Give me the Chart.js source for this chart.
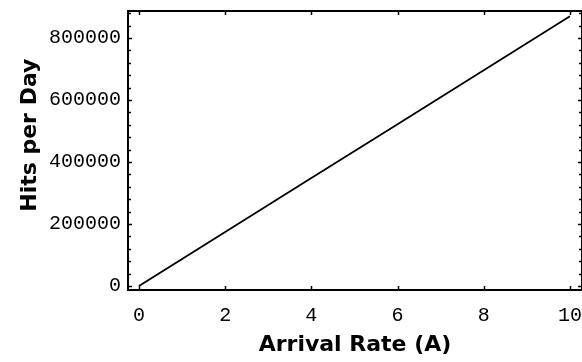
<!DOCTYPE html>
<html>
<head>
<meta charset="utf-8">
<script src="https://cdn.jsdelivr.net/npm/chart.js@4"></script>
<style>
  html, body { margin: 0; padding: 0; background: #fff; }
  canvas { display: block; }
</style>
</head>
<body>
<canvas id="hitsChart" width="582" height="362"></canvas>
<script>
// values
const arrivalRate = [0, 2, 4, 6, 8, 10];
const hitsPerDay = [0, 174000, 348000, 522000, 696000, 870000];

const xTickValues = [0, 2, 4, 6, 8, 10];
const yTickValues = [0, 200000, 400000, 600000, 800000];
const yMinorStep = 40000;

const ctx = document.getElementById('hitsChart').getContext('2d');

// frame + little inward ticks, like the old Mathematica plot
const frameTicks = {
  id: 'frameTicks',
  afterDraw(chart) {
    const { ctx, chartArea: a, scales: { x, y } } = chart;
    ctx.save();
    ctx.strokeStyle = '#000';
    ctx.lineWidth = 2;
    ctx.strokeRect(a.left, a.top, a.right - a.left, a.bottom - a.top);

    ctx.lineWidth = 1.5;
    ctx.beginPath();
    xTickValues.forEach(v => {
      const px = Math.round(x.getPixelForValue(v)) + 0.5;
      ctx.moveTo(px, a.bottom); ctx.lineTo(px, a.bottom - 4);
      ctx.moveTo(px, a.top); ctx.lineTo(px, a.top + 4);
    });
    for (let v = 0; v <= y.max; v += yMinorStep) {
      const py = Math.round(y.getPixelForValue(v)) + 0.5;
      const len = yTickValues.includes(v) ? 4 : 3;
      ctx.moveTo(a.left, py); ctx.lineTo(a.left + len, py);
      ctx.moveTo(a.right, py); ctx.lineTo(a.right - len, py);
    }
    ctx.stroke();
    ctx.restore();
  }
};

const config = {
  type: 'scatter',
  data: {
    datasets: [{
      data: arrivalRate.map((a, i) => ({ x: a, y: hitsPerDay[i] })),
      showLine: true,
      borderColor: '#000',
      borderWidth: 1.8,
      pointRadius: 0,
      tension: 0
    }]
  },
  options: {
    responsive: false,
    animation: false,
    layout: { padding: { top: 11, right: 0, bottom: 0, left: 0 } },
    plugins: { legend: { display: false }, tooltip: { enabled: false } },
    scales: {
      x: {
        type: 'linear',
        min: -0.255,
        max: 10.28,
        grid: { display: false, drawTicks: false },
        border: { display: false },
        afterBuildTicks: s => { s.ticks = xTickValues.map(v => ({ value: v })); },
        afterFit: s => { s.height = 72; s.paddingLeft = 0; s.paddingRight = 0; },
        ticks: {
          padding: 14,
          color: '#000',
          font: { family: 'Liberation Mono', size: 20 },
          callback: v => String(v)
        },
        title: {
          display: true,
          text: 'Arrival Rate (A)',
          color: '#000',
          font: { family: 'DejaVu Sans', size: 22, weight: 'bold' },
          padding: { top: 0, bottom: 4 }
        }
      },
      y: {
        min: -12900,
        max: 887000,
        grid: { display: false, drawTicks: false },
        border: { display: false },
        afterBuildTicks: s => { s.ticks = yTickValues.map(v => ({ value: v })); },
        afterFit: s => { s.width = 128; s.paddingTop = 0; s.paddingBottom = 0; },
        ticks: {
          padding: 7,
          color: '#000',
          font: { family: 'Liberation Mono', size: 20 },
          callback: v => String(v)
        },
        title: {
          display: true,
          text: '    Hits per Day',
          color: '#000',
          font: { family: 'DejaVu Sans', size: 22, weight: 'bold' },
          padding: { top: 17, bottom: 0 }
        }
      }
    }
  },
  plugins: [frameTicks]
};

const hitsChart = new Chart(ctx, config);
</script>
</body>
</html>
